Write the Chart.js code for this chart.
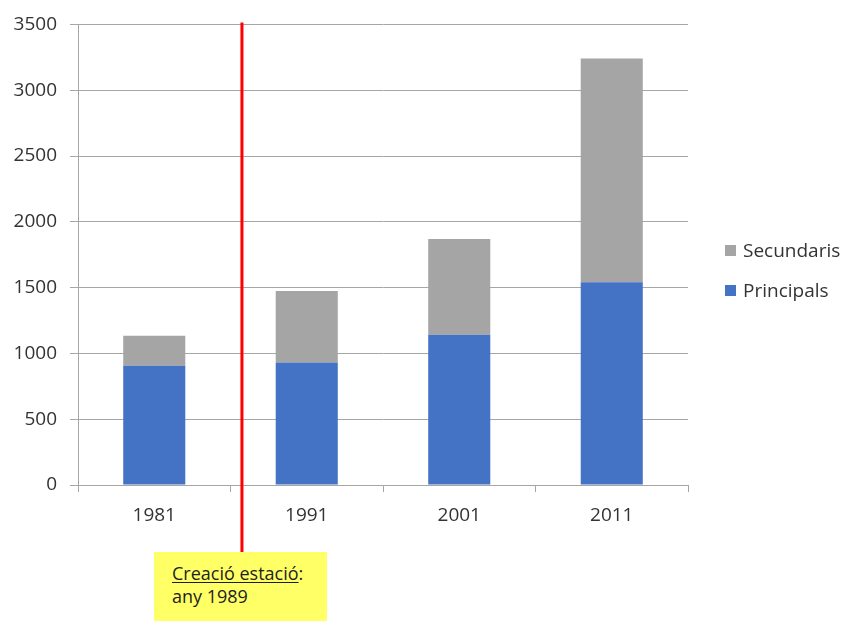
<!DOCTYPE html>
<html>
<head>
<meta charset="utf-8">
<script src="https://cdn.jsdelivr.net/npm/chart.js@4.4.0/dist/chart.umd.min.js"></script>
<style>
  html, body { margin: 0; padding: 0; background: #fff; }
  #wrap { position: relative; width: 842px; height: 621px; overflow: hidden; }
  #c { position: absolute; left: 0; top: 0; }
  #note {
    position: absolute; left: 154px; top: 552px; width: 173px; height: 69px;
    background: #FFFF66; box-sizing: border-box; padding: 10px 0 0 18px;
    font-family: "Open Sans", sans-serif; font-size: 18px; line-height: 23px; color: #1e1e1e;
  }
  #note u { text-decoration-thickness: 1px; text-underline-offset: 2px; }
</style>
</head>
<body>
<div id="wrap">
  <canvas id="c" width="842" height="621"></canvas>
  <div id="note"><u>Creació estació</u>:<br>any 1989</div>
</div>
<script>
const categories = ['1981', '1991', '2001', '2011'];
const principals = [907, 930, 1142, 1541];
const secundaris = [227, 545, 727, 1699];
const seriesNames = ['Principals', 'Secundaris'];
const yMax = 3500;
const yStep = 500;

const FONT = '"Open Sans", sans-serif';
const gridColor = '#a6a6a6';
const textColor = '#333333';

const overlay = {
  id: 'overlay',
  afterDraw(chart) {
    const ctx = chart.ctx;
    const xs = chart.scales.x;
    const x = xs.getPixelForValue(0.575);
    ctx.save();
    ctx.strokeStyle = '#FF0000';
    ctx.lineWidth = 3;
    ctx.beginPath();
    ctx.moveTo(x, chart.chartArea.top - 2);
    ctx.lineTo(x, 552);
    ctx.stroke();
    const items = chart.data.datasets.slice().reverse();
    ctx.font = '19px ' + FONT;
    ctx.textBaseline = 'alphabetic';
    ctx.textAlign = 'left';
    items.forEach((ds, i) => {
      const cy = 250 + i * 40;
      ctx.fillStyle = ds.backgroundColor;
      ctx.fillRect(725, cy - 5, 11, 11);
      ctx.fillStyle = textColor;
      ctx.fillText(ds.label, 743, cy + 7);
    });
    ctx.restore();
  }
};

new Chart(document.getElementById('c'), {
  type: 'bar',
  data: {
    labels: categories,
    datasets: [
      { label: seriesNames[0], data: principals, backgroundColor: '#4472C4' },
      { label: seriesNames[1], data: secundaris, backgroundColor: '#A5A5A5' }
    ]
  },
  options: {
    responsive: false,
    animation: false,
    devicePixelRatio: 1,
    layout: { padding: { left: 0, right: 154, top: 24, bottom: 0 } },
    plugins: { legend: { display: false }, tooltip: { enabled: false } },
    datasets: { bar: { categoryPercentage: 1, barPercentage: 0.407 } },
    scales: {
      x: {
        stacked: true,
        offset: true,
        grid: { offset: true, drawOnChartArea: false, drawTicks: true, tickLength: 7, color: gridColor },
        border: { color: gridColor },
        ticks: { color: textColor, font: { family: FONT, size: 19 }, padding: 12 },
        afterFit(s) { s.height = 136; }
      },
      y: {
        stacked: true,
        min: 0, max: yMax,
        grid: { color: gridColor, tickLength: 8 },
        border: { color: gridColor },
        ticks: { stepSize: yStep, color: textColor, font: { family: FONT, size: 19 }, padding: 13,
                 callback: (v) => String(v) },
        afterFit(s) { s.width = 78; }
      }
    }
  },
  plugins: [overlay]
});
</script>
</body>
</html>
